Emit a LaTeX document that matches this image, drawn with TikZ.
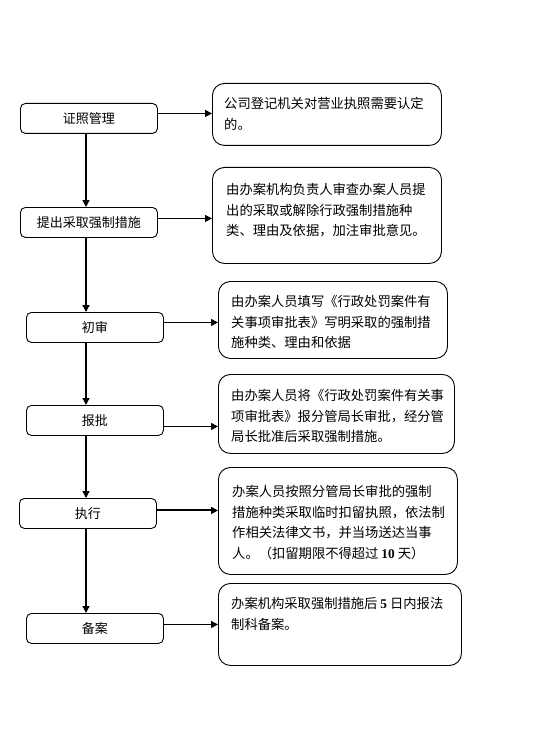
\documentclass[tikz,border=0pt]{standalone}
\usepackage{fontspec}
\setmainfont{Noto Sans CJK SC}
\newfontfamily\numfont{Liberation Serif}
\usetikzlibrary{arrows.meta}
\tikzset{
  lbox/.style={draw, line width=0.9pt, rounded corners=5pt, minimum width=137pt, minimum height=30pt, anchor=north west, inner sep=0pt, font=\fontsize{13pt}{16pt}\selectfont},
  rbox/.style={draw, line width=0.9pt, rounded corners=12pt, anchor=north west, inner sep=0pt},
  rtext/.style={anchor=north west, inner sep=0pt, align=left, font=\fontsize{13.3pt}{20.6pt}\selectfont},
  arr/.style={line width=1pt, -{Triangle[length=7pt,width=7pt]}},
  varr/.style={line width=1.3pt, -{Triangle[length=7pt,width=7pt]}}
}
\begin{document}
\begin{tikzpicture}[x=1pt,y=-1pt]
\useasboundingbox (0,0) rectangle (552,738);
% left boxes
\node[lbox] (b1) at (20,103) {证照管理};
\node[lbox] (b2) at (20,207) {提出采取强制措施};
\node[lbox] (b3) at (26,312) {初审};
\node[lbox] (b4) at (26,405) {报批};
\node[lbox] (b5) at (19,498) {执行};
\node[lbox] (b6) at (26,613) {备案};
\coordinate (spine) at (86,0);
% right boxes
\node[rbox, minimum width=229pt, minimum height=62pt] (r1) at (212,83) {};
\node[rbox, minimum width=229pt, minimum height=96pt] (r2) at (212,167) {};
\node[rbox, minimum width=229pt, minimum height=77pt] (r3) at (218,281) {};
\node[rbox, minimum width=236pt, minimum height=79pt] (r4) at (218,374) {};
\node[rbox, minimum width=239pt, minimum height=107pt] (r5) at (218,467) {};
\node[rbox, minimum width=243pt, minimum height=82pt] (r6) at (218,583) {};
% texts
\node[rtext] (t1) at (224,97) {公司登记机关对营业执照需要认定\\的。};
\node[rtext] (t2) at (226,183) {由办案机构负责人审查办案人员提\\出的采取或解除行政强制措施种\\类、理由及依据，加注审批意见。};
\node[rtext] (t3) at (231,295) {由办案人员填写《行政处罚案件有\\关事项审批表》写明采取的强制措\\施种类、理由和依据};
\node[rtext] (t4) at (231,389) {由办案人员将《行政处罚案件有关事\\项审批表》报分管局长审批，经分管\\局长批准后采取强制措施。};
\node[rtext] (t5) at (232,485) {办案人员按照分管局长审批的强制\\措施种类采取临时扣留执照，依法制\\作相关法律文书，并当场送达当事\\人。（扣留期限不得超过 {\numfont\bfseries 10} 天）};
\node[rtext] (t6) at (231,597) {办案机构采取强制措施后 {\numfont\bfseries 5} 日内报法\\制科备案。};
% vertical arrows
\draw[varr] (b1.south -| spine) -- (b2.north -| spine);
\draw[varr] (b2.south -| spine) -- (b3.north -| spine);
\draw[varr] (b3.south -| spine) -- (b4.north -| spine);
\draw[varr] (b4.south -| spine) -- (b5.north -| spine);
\draw[varr] (b5.south -| spine) -- (b6.north -| spine);
% horizontal arrows
\draw[arr] ([yshift=5pt]b1.east) -- ([yshift=5pt]b1.east -| r1.west);
\draw[arr] ([yshift=4pt]b2.east) -- ([yshift=4pt]b2.east -| r2.west);
\draw[arr] ([yshift=5pt]b3.east) -- ([yshift=5pt]b3.east -| r3.west);
\draw[arr] ([yshift=-6pt]b4.east) -- ([yshift=-6pt]b4.east -| r4.west);
\draw[arr, line width=2pt] ([yshift=3pt]b5.east) -- ([yshift=3pt]b5.east -| r5.west);
\draw[arr] ([yshift=4pt]b6.east) -- ([yshift=4pt]b6.east -| r6.west);
\end{tikzpicture}
\end{document}
